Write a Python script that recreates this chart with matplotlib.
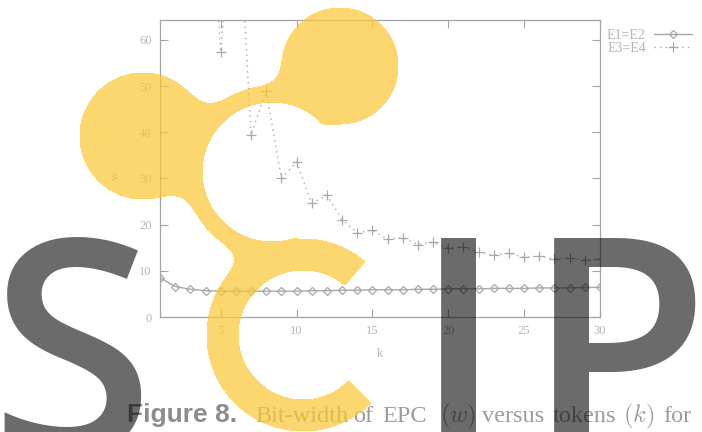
import numpy as np
import matplotlib.pyplot as plt
from matplotlib.textpath import TextPath
from matplotlib.font_manager import FontProperties

plt.rcParams['font.family'] = ['Liberation Serif', 'DejaVu Serif']
plt.rcParams['mathtext.fontset'] = 'cm'

# data
k = list(range(1, 31))
w_e1e2 = [8.5, 6.6, 6.0, 5.7, 5.6, 5.6, 5.6, 5.6, 5.6, 5.6, 5.7, 5.7, 5.8, 5.8, 5.9,
          5.9, 5.9, 6.0, 6.0, 6.1, 6.1, 6.1, 6.2, 6.2, 6.2, 6.3, 6.3, 6.3, 6.4, 6.4]
w_e3e4 = [400, 250, 160, 110, 57.4, 100, 39.4, 49.0, 30.0, 33.6, 24.6, 26.4, 21.1, 18.2, 18.8,
          16.8, 17.2, 15.7, 16.2, 14.9, 15.2, 14.1, 13.4, 13.8, 12.9, 13.2, 12.6, 12.8, 12.3, 12.5]
labels = ['E1=E2', 'E3=E4']
xticks = [5, 10, 15, 20, 25, 30]
yticks = [0, 10, 20, 30, 40, 50, 60]

caption_head = 'Figure 8.'
caption_words = ['Bit-width', 'of', 'EPC', '$(w)$', 'versus', 'tokens', '$(k)$', 'for']
caption_x = [255, 353, 382, 440, 482, 553, 623, 663]

W, H = 702, 432
grey_txt = '#b4b4b4'
grey_ax = '#a4a4a4'
grey_ln = '#a8a8a8'

fig = plt.figure(figsize=(W / 100, H / 100), dpi=100)
ax = fig.add_axes([160 / W, 1 - 317 / H, 440 / W, 297 / H])

ax.plot(k, w_e1e2, color=grey_ln, lw=1, marker='D', ms=4.5, mfc='none', mec=grey_ln,
        mew=0.9, label=labels[0])
ax.plot(k, w_e3e4, color=grey_ln, lw=1, ls=(0, (1, 3)), marker='+', ms=7, mew=0.9,
        label=labels[1])

ax.set_xlim(1, 30)
ax.set_ylim(0, 64.33)
ax.set_xticks(xticks)
ax.set_yticks(yticks)
ax.tick_params(direction='in', top=True, right=True, length=5.5, width=0.8,
               color=grey_ax, labelcolor=grey_txt, labelsize=9, pad=6)
for s in ax.spines.values():
    s.set_color(grey_ax)
    s.set_linewidth(0.9)
ax.set_xlabel('k', color=grey_txt, fontsize=9)
ax.set_ylabel('w', color=grey_txt, fontsize=9)
ax.xaxis.set_label_coords((380 - 160) / 440, -(348 - 317) / 297)
ax.yaxis.set_label_coords((122 - 160) / 440, (317 - 175) / 297)

ax.legend(loc='upper left', bbox_to_anchor=(607 / W, 1 - 29 / H),
          bbox_transform=fig.transFigure, frameon=False, markerfirst=False,
          fontsize=10, labelcolor=grey_txt, handlelength=2.7, handletextpad=0.6,
          labelspacing=0.0, borderpad=0, borderaxespad=0)

# caption
fig.text(127 / W, 1 - 422 / H, caption_head, family='Liberation Sans', weight='bold',
         fontsize=19, color='#8c8c8c', va='baseline')
for word, x in zip(caption_words, caption_x):
    fig.text(x / W, 1 - 422 / H, word, fontsize=17.5, color='#9c9c9c', va='baseline')

# watermark overlay in pixel coordinates
ov = fig.add_axes([0, 0, 1, 1], zorder=10)
ov.set_xlim(0, W)
ov.set_ylim(H, 0)
ov.axis('off')
ov.patch.set_alpha(0)

X, Y = np.meshgrid(np.arange(W) + 0.5, np.arange(H) + 0.5)


def disk(cx, cy, r):
    return np.hypot(X - cx, Y - cy) - r


def cut_wedge(d, cx, cy, mid, half):
    ang = np.degrees(np.arctan2(cy - Y, X - cx))
    diff = (ang - mid + 180) % 360 - 180
    ex = np.hypot(X - cx, Y - cy) * np.sin(np.radians(np.clip(half - np.abs(diff), -90, 90)))
    return np.maximum(d, ex)


def smin(a, b, kk):
    h = np.clip(0.5 + 0.5 * (b - a) / kk, 0, 1)
    return b + (a - b) * h - kk * h * (1 - h)


lobe_tr = disk(340, 66, 58)
lobe_l = disk(143, 136, 63)
upper = cut_wedge(disk(272, 172, 86), 272, 172, -17.5, 72.5)
lower = cut_wedge(disk(303, 335, 96), 303, 335, 2.5, 47.5)
u = smin(smin(smin(lobe_l, upper, 35), lobe_tr, 30), lower, 30)
shape = np.maximum(u, np.maximum(-disk(272, 172, 70), -disk(303, 335, 65)))
ov.contourf(X, Y, shape, levels=[shape.min() - 1, 0], colors=[(0.983, 0.781, 0.2)],
            alpha=0.7)

# big letters: place by ink box (left edge, top edge in pixels)
fs = 215
fp = FontProperties(family='Open Sans', weight='semibold', size=fs)
for ch, x, top in [('S', 4, 238), ('I', 441, 239), ('P', 554, 239)]:
    ext = TextPath((0, 0), ch, size=fs * 100 / 72, prop=fp).get_extents()
    ov.text(x - ext.x0, top + ext.y1, ch, fontproperties=fp, color='k', alpha=0.58,
            ha='left', va='baseline')

fig.savefig('out.png', dpi=100)
